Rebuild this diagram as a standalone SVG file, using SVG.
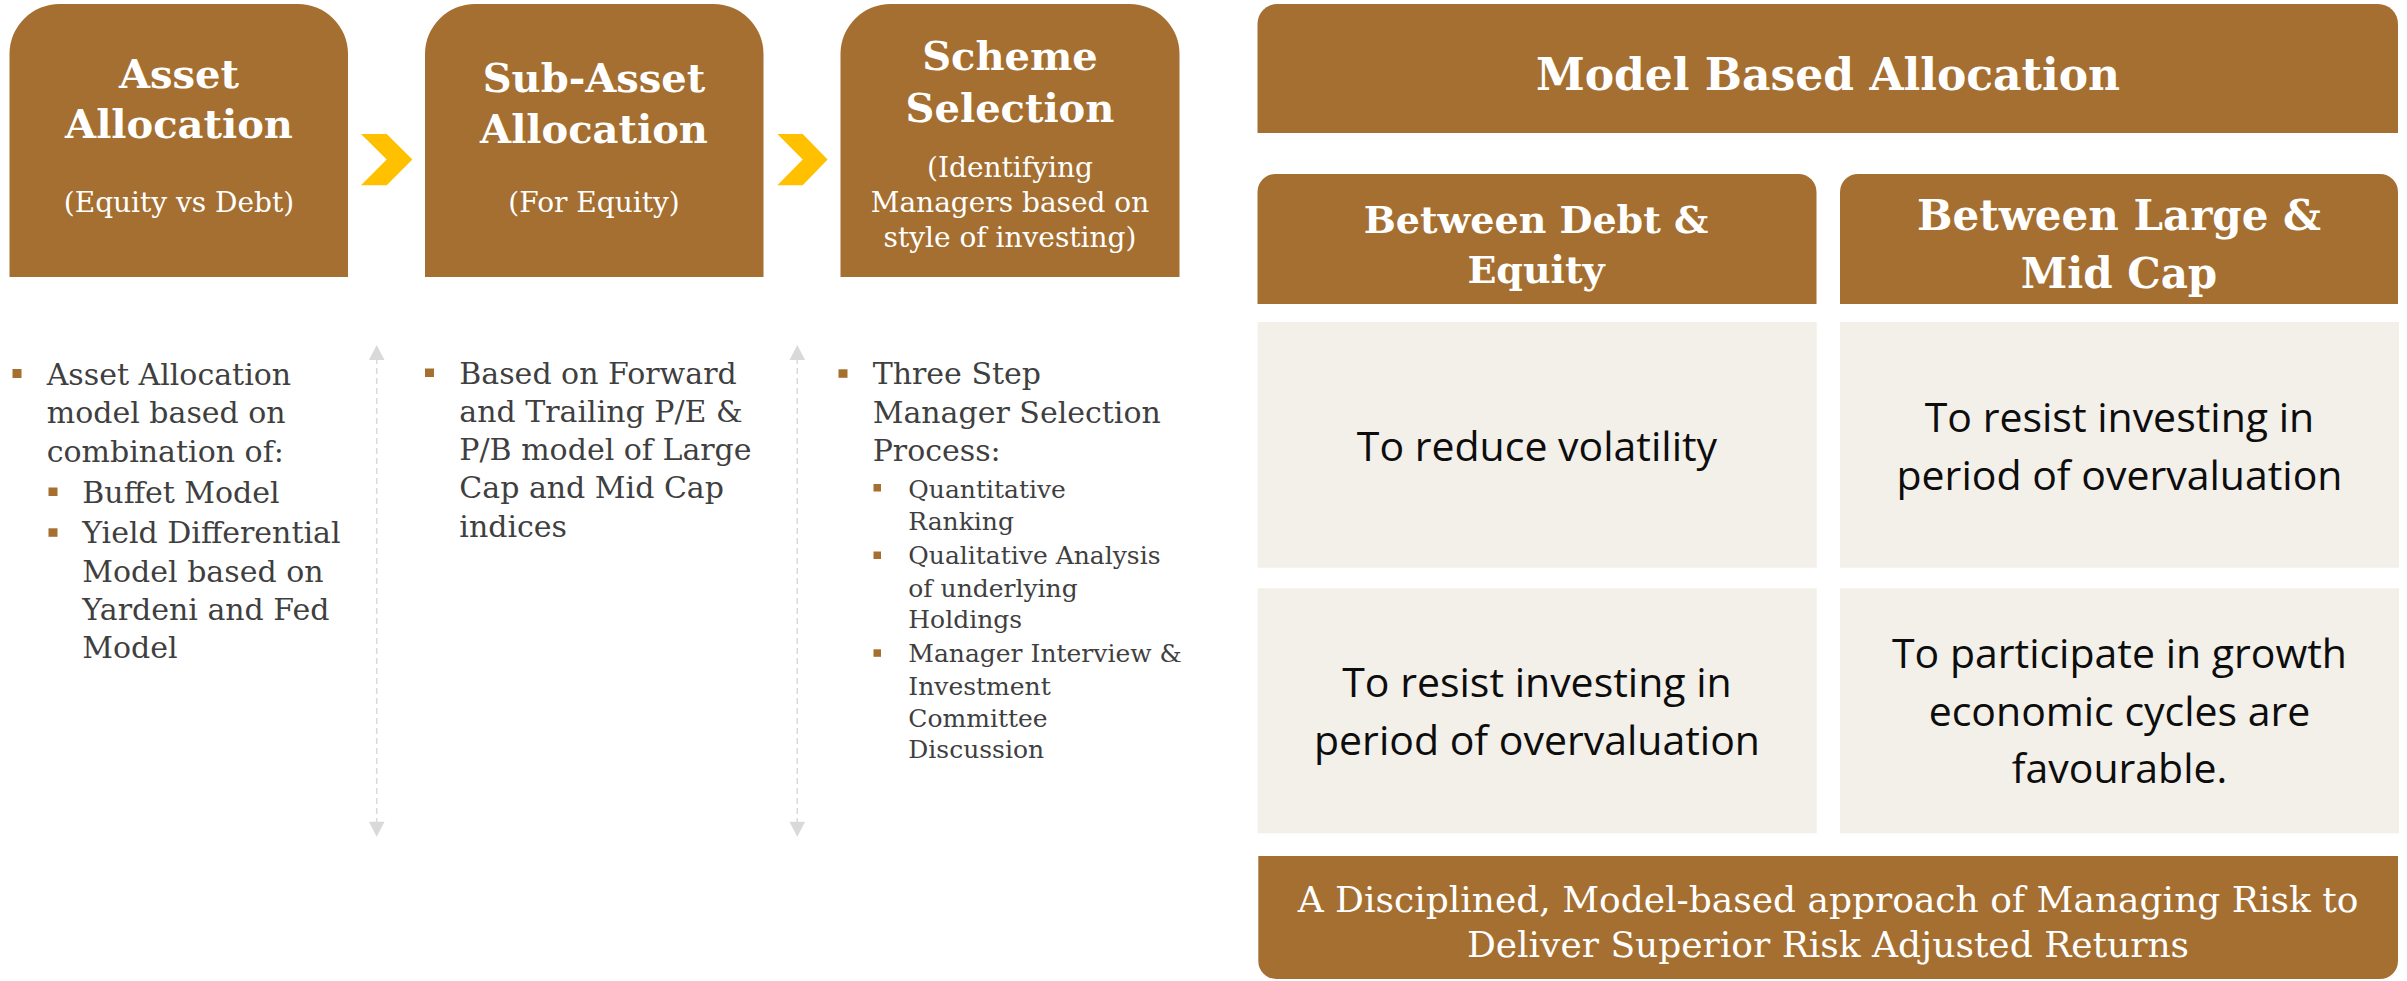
<svg xmlns="http://www.w3.org/2000/svg" width="2407" height="981" viewBox="0 0 2407 981">
<style>
.hdr{fill:#A56F31}
.cell{fill:#F3EFE9}
.chev{fill:#FFC000}
.bul{fill:#A5702F}
.h{font-family:"DejaVu Serif","Liberation Serif",serif;font-weight:bold;fill:#FFFFFF;text-anchor:middle}
.sub{font-family:"DejaVu Serif","Liberation Serif",serif;font-size:28px;fill:#FFFFFF;text-anchor:middle}
.body{font-family:"DejaVu Serif","Liberation Serif",serif;font-size:30px;fill:#3F3F3F}
.small{font-family:"DejaVu Serif","Liberation Serif",serif;font-size:25px;fill:#3F3F3F}
.cellt{font-family:"Open Sans","Noto Sans","Liberation Sans",sans-serif;font-size:41px;fill:#0D0D0D;text-anchor:middle}
.foot{font-family:"DejaVu Serif","Liberation Serif",serif;font-size:36px;fill:#FFFFFF;text-anchor:middle}
.dash{stroke:#D9D9D9;stroke-width:1.5;stroke-dasharray:6 4;fill:none}
.tip{fill:#D9D9D9}
</style>
<rect width="2407" height="981" fill="#FFFFFF"/>

<g id="step-asset-allocation">
<path class="hdr" d="M9.5,277 V54 A50,50 0 0 1 59.5,4 H298 A50,50 0 0 1 348,54 V277 Z"/>
<text class="h" font-size="40" x="179" y="88">Asset</text>
<text class="h" font-size="40" x="179" y="138">Allocation</text>
<text class="sub" x="179" y="212">(Equity vs Debt)</text>
</g>

<g id="step-sub-asset-allocation">
<path class="hdr" d="M425,277 V54 A50,50 0 0 1 475,4 H713.5 A50,50 0 0 1 763.5,54 V277 Z"/>
<text class="h" font-size="40" x="594" y="92">Sub-Asset</text>
<text class="h" font-size="40" x="594" y="143">Allocation</text>
<text class="sub" x="594" y="212">(For Equity)</text>
</g>

<g id="step-scheme-selection">
<path class="hdr" d="M840.5,277 V54 A50,50 0 0 1 890.5,4 H1129.5 A50,50 0 0 1 1179.5,54 V277 Z"/>
<text class="h" font-size="40" x="1010" y="70">Scheme</text>
<text class="h" font-size="40" x="1010" y="122">Selection</text>
<text class="sub" x="1010" y="177">(Identifying</text>
<text class="sub" x="1010" y="212">Managers based on</text>
<text class="sub" x="1010" y="247">style of investing)</text>
</g>

<g id="connectors">
<polygon class="chev" points="361,134 386.7,134 412.4,159.5 386.7,185.3 361,185.3 386.7,159.5"/>
<polygon class="chev" points="777.4,134 802.7,134 827.6,159.5 802.7,185.3 777.4,185.3 802.7,159.5"/>
<line class="dash" x1="376.7" y1="358" x2="376.7" y2="824"/>
<polygon class="tip" points="376.7,345 384.5,360 368.9,360"/>
<polygon class="tip" points="376.7,836.7 384.5,821.7 368.9,821.7"/>
<line class="dash" x1="797.3" y1="358" x2="797.3" y2="824"/>
<polygon class="tip" points="797.3,345 805.1,360 789.5,360"/>
<polygon class="tip" points="797.3,836.7 805.1,821.7 789.5,821.7"/>
</g>

<g id="notes-asset-allocation">
<rect class="bul" x="12.5" y="369" width="9" height="9"/>
<text class="body" x="46.7" y="385">Asset Allocation</text>
<text class="body" x="46.7" y="423.3">model based on</text>
<text class="body" x="46.7" y="461.7">combination of:</text>
<rect class="bul" x="48.5" y="487.5" width="9" height="8.5"/>
<text class="body" x="82.3" y="502.7">Buffet Model</text>
<rect class="bul" x="48.5" y="528.3" width="9" height="8.5"/>
<text class="body" x="82.3" y="542.7">Yield Differential</text>
<text class="body" x="82.3" y="581.7">Model based on</text>
<text class="body" x="82.3" y="620">Yardeni and Fed</text>
<text class="body" x="82.3" y="658.3">Model</text>
</g>

<g id="notes-sub-asset-allocation">
<rect class="bul" x="425" y="368.5" width="9" height="8.5"/>
<text class="body" x="459.3" y="384">Based on Forward</text>
<text class="body" x="459.3" y="422">and Trailing P/E &amp;</text>
<text class="body" x="459.3" y="460">P/B model of Large</text>
<text class="body" x="459.3" y="498.3">Cap and Mid Cap</text>
<text class="body" x="459.3" y="537">indices</text>
</g>

<g id="notes-scheme-selection">
<rect class="bul" x="838.5" y="369.3" width="9" height="8.5"/>
<text class="body" x="872.7" y="384.3">Three Step</text>
<text class="body" x="872.7" y="423.3">Manager Selection</text>
<text class="body" x="872.7" y="461">Process:</text>
<rect class="bul" x="873.5" y="484" width="7.5" height="7.5"/>
<text class="small" x="908.3" y="497.7">Quantitative</text>
<text class="small" x="908.3" y="530">Ranking</text>
<rect class="bul" x="873.5" y="551.5" width="7.5" height="7.5"/>
<text class="small" x="908.3" y="564.3">Qualitative Analysis</text>
<text class="small" x="908.3" y="596.7">of underlying</text>
<text class="small" x="908.3" y="628.3">Holdings</text>
<rect class="bul" x="873.5" y="649.3" width="7.5" height="7.5"/>
<text class="small" x="908.3" y="662.3">Manager Interview &amp;</text>
<text class="small" x="908.3" y="695">Investment</text>
<text class="small" x="908.3" y="726.7">Committee</text>
<text class="small" x="908.3" y="758.3">Discussion</text>
</g>

<g id="model-based-allocation">
<path class="hdr" d="M1257.5,133 V24 A20,20 0 0 1 1277.5,4 H2378 A20,20 0 0 1 2398,24 V133 Z"/>
<text class="h" font-size="44" x="1828" y="90">Model Based Allocation</text>
</g>

<g id="between-debt-equity">
<path class="hdr" d="M1257.5,304 V192 A18,18 0 0 1 1275.5,174 H1798.5 A18,18 0 0 1 1816.5,192 V304 Z"/>
<text class="h" font-size="38" x="1536" y="232.7">Between Debt &amp;</text>
<text class="h" font-size="38" x="1536" y="283.3">Equity</text>
</g>

<g id="between-large-mid-cap">
<path class="hdr" d="M1840,304 V192 A18,18 0 0 1 1858,174 H2380 A18,18 0 0 1 2398,192 V304 Z"/>
<text class="h" font-size="42" x="2119" y="230">Between Large &amp;</text>
<text class="h" font-size="42" x="2119" y="288.3">Mid Cap</text>
</g>

<g id="cell-reduce-volatility">
<rect class="cell" x="1257.7" y="322" width="559" height="245.7"/>
<text class="cellt" x="1537" y="461">To reduce volatility</text>
</g>

<g id="cell-resist-large-mid">
<rect class="cell" x="1840" y="322" width="559" height="245.7"/>
<text class="cellt" x="2119.5" y="431.7">To resist investing in</text>
<text class="cellt" x="2119.5" y="490">period of overvaluation</text>
</g>

<g id="cell-resist-debt-equity">
<rect class="cell" x="1257.7" y="588.3" width="559" height="245"/>
<text class="cellt" x="1537" y="697.3">To resist investing in</text>
<text class="cellt" x="1537" y="755">period of overvaluation</text>
</g>

<g id="cell-participate-growth">
<rect class="cell" x="1840" y="588.3" width="559" height="245"/>
<text class="cellt" x="2119.5" y="668.3">To participate in growth</text>
<text class="cellt" x="2119.5" y="725.7">economic cycles are</text>
<text class="cellt" x="2119.5" y="782.7">favourable.</text>
</g>

<g id="footer">
<path class="hdr" d="M1258.3,856 H2398 V961 A18,18 0 0 1 2380,979 H1276.3 A18,18 0 0 1 1258.3,961 Z"/>
<text class="foot" x="1828" y="911.7">A Disciplined, Model-based approach of Managing Risk to</text>
<text class="foot" x="1828" y="956.7">Deliver Superior Risk Adjusted Returns</text>
</g>
</svg>
